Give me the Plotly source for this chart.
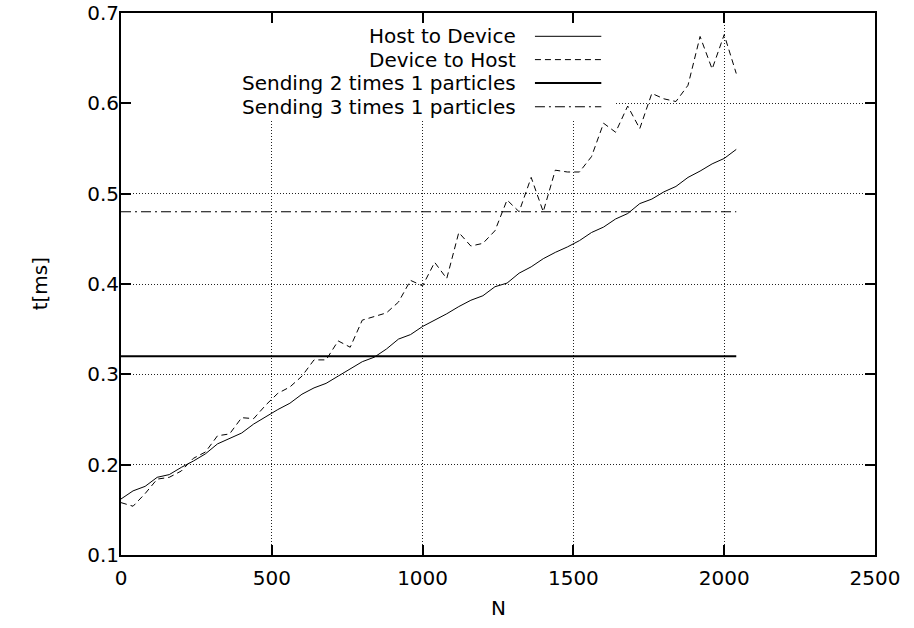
import plotly.graph_objects as go

# Transfer size N (number of particles)
n_values = list(range(0, 2041, 40))

# Measured transfer times in ms
host_to_device = [
    0.162, 0.171, 0.176, 0.186, 0.189, 0.197, 0.204, 0.212, 0.223, 0.229,
    0.235, 0.245, 0.253, 0.261, 0.268, 0.278, 0.285, 0.290, 0.298, 0.306,
    0.314, 0.319, 0.328, 0.339, 0.344, 0.353, 0.360, 0.367, 0.375, 0.382,
    0.387, 0.397, 0.401, 0.412, 0.419, 0.428, 0.435, 0.441, 0.448, 0.457,
    0.463, 0.472, 0.478, 0.489, 0.494, 0.502, 0.508, 0.518, 0.525, 0.533,
    0.539, 0.549,
]
device_to_host = [
    0.158, 0.154, 0.168, 0.184, 0.186, 0.193, 0.207, 0.214, 0.232, 0.234,
    0.252, 0.251, 0.266, 0.279, 0.286, 0.298, 0.316, 0.316, 0.337, 0.330,
    0.360, 0.364, 0.368, 0.380, 0.404, 0.398, 0.424, 0.406, 0.457, 0.442,
    0.445, 0.459, 0.493, 0.480, 0.518, 0.480, 0.526, 0.524, 0.524, 0.541,
    0.578, 0.568, 0.597, 0.572, 0.611, 0.605, 0.602, 0.620, 0.674, 0.638,
    0.676, 0.633,
]
# Constant reference times for sending one particle several times
sending_2_times = 0.32
sending_3_times = 0.48

series_names = [
    "Host to Device",
    "Device to Host",
    "Sending 2 times 1 particles",
    "Sending 3 times 1 particles",
]
x_ticks = [0, 500, 1000, 1500, 2000, 2500]
y_ticks = [0.1, 0.2, 0.3, 0.4, 0.5, 0.6, 0.7]

FONT = "DejaVu Sans"
FS = 20

styles = [
    dict(color="black", width=1, dash="solid"),
    dict(color="black", width=1, dash="6px,4px"),
    dict(color="black", width=2, dash="solid"),
    dict(color="black", width=1.2, dash="10px,4px,2px,4px"),
]

series_values = [
    host_to_device,
    device_to_host,
    [sending_2_times] * len(n_values),
    [sending_3_times] * len(n_values),
]

fig = go.Figure()
for name, vals, st in zip(series_names, series_values, styles):
    fig.add_trace(go.Scatter(
        x=n_values, y=vals, mode="lines", name=name,
        line=st, showlegend=False, hoverinfo="skip",
    ))

# Key: white box over the grid, right-aligned labels with line samples
shapes = [dict(
    type="rect", xref="paper", yref="paper",
    x0=0.0135, x1=0.654, y0=0.803, y1=0.980,
    fillcolor="white", line=dict(width=0), layer="above",
)]
annotations = []
row_y = [0.957, 0.914, 0.871, 0.827]
for name, st, yy in zip(series_names, styles, row_y):
    shapes.append(dict(
        type="line", xref="paper", yref="paper",
        x0=0.549, x1=0.637, y0=yy, y1=yy, line=st,
    ))
    annotations.append(dict(
        text=name, xref="paper", yref="paper", x=0.526, y=yy,
        xanchor="right", yanchor="middle", showarrow=False,
        font=dict(family=FONT, size=FS, color="black"),
    ))

annotations.append(dict(
    text="N", xref="paper", yref="paper", x=0.5, y=-0.098,
    xanchor="center", yanchor="middle", showarrow=False,
    font=dict(family=FONT, size=FS, color="black"),
))
annotations.append(dict(
    text="t[ms]", xref="paper", yref="paper", x=-0.107, y=0.5,
    xanchor="center", yanchor="middle", showarrow=False, textangle=-90,
    font=dict(family=FONT, size=FS, color="black"),
))

axis_common = dict(
    showline=True, linecolor="black", linewidth=2, mirror="ticks",
    ticks="inside", ticklen=10, tickwidth=2, tickcolor="black",
    showgrid=True, gridcolor="#222222", gridwidth=1, griddash="1px,2px",
    zeroline=False, automargin=False,
    tickfont=dict(family=FONT, size=FS, color="black"),
)

fig.update_layout(
    width=914, height=628,
    margin=dict(l=121, r=39, t=12.5, b=73.3),
    paper_bgcolor="white", plot_bgcolor="white",
    xaxis=dict(range=[0, 2500], tickvals=x_ticks,
               ticktext=[str(v) for v in x_ticks],
               ticklabelstandoff=4, **axis_common),
    yaxis=dict(range=[0.1, 0.7], tickvals=y_ticks,
               ticktext=[f"{v:.1f}" for v in y_ticks],
               ticklabelstandoff=-4, **axis_common),
    shapes=shapes,
    annotations=annotations,
)

fig.write_html("out.html")
